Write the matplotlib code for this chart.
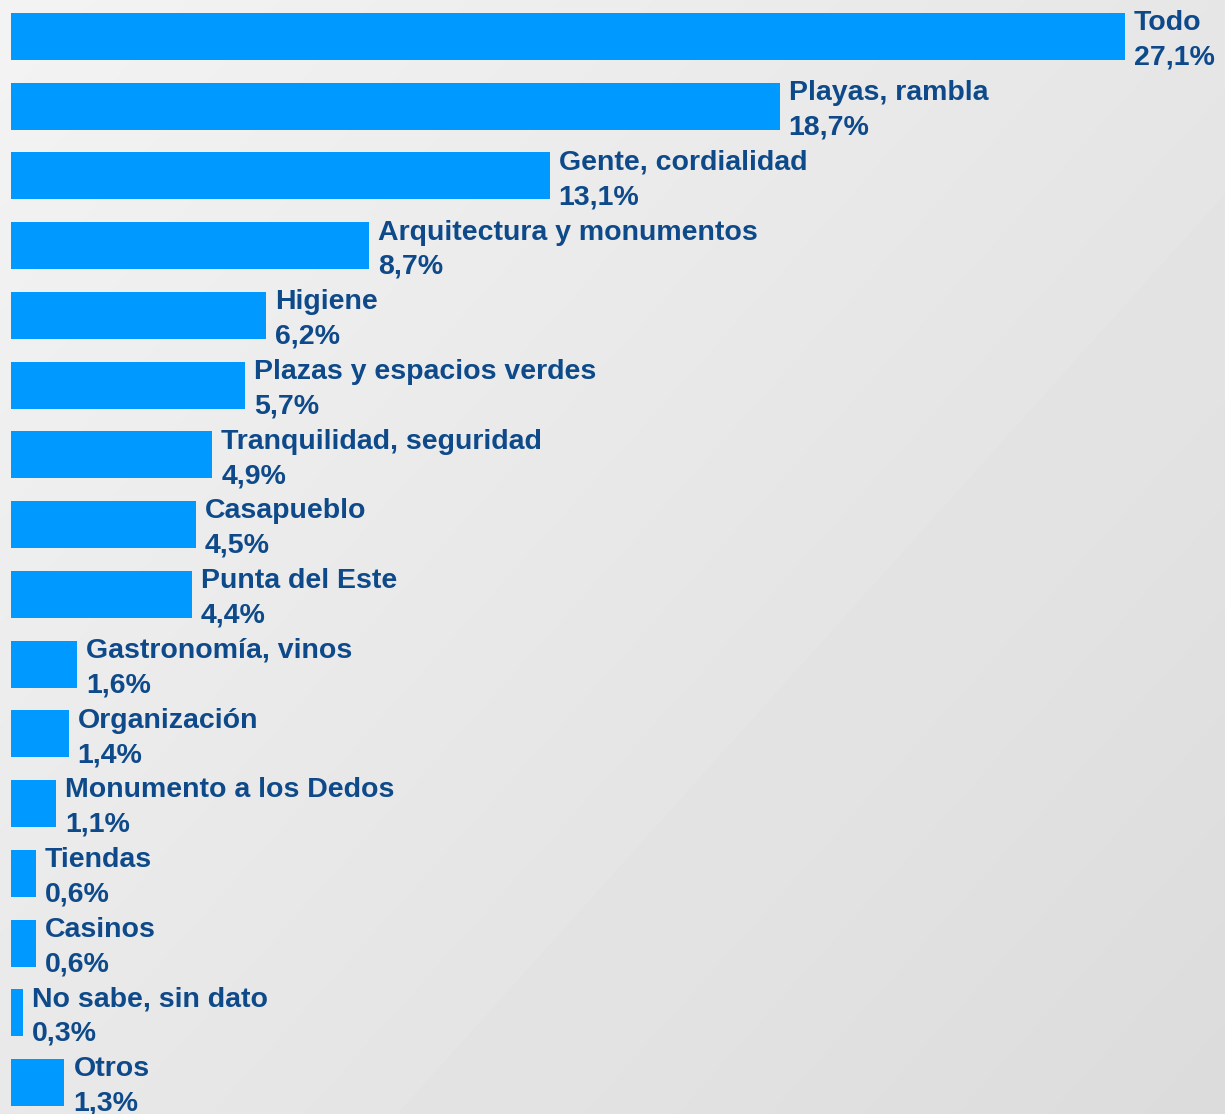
import numpy as np
import matplotlib
matplotlib.use("Agg")
import matplotlib.pyplot as plt

categories = ["Todo", "Playas, rambla", "Gente, cordialidad", "Arquitectura y monumentos",
              "Higiene", "Plazas y espacios verdes", "Tranquilidad, seguridad", "Casapueblo",
              "Punta del Este", "Gastronomía, vinos", "Organización", "Monumento a los Dedos",
              "Tiendas", "Casinos", "No sabe, sin dato", "Otros"]
values = [27.1, 18.7, 13.1, 8.7, 6.2, 5.7, 4.9, 4.5, 4.4, 1.6, 1.4, 1.1, 0.6, 0.6, 0.3, 1.3]
value_labels = ["27,1%", "18,7%", "13,1%", "8,7%", "6,2%", "5,7%", "4,9%", "4,5%", "4,4%",
                "1,6%", "1,4%", "1,1%", "0,6%", "0,6%", "0,3%", "1,3%"]

W, H = 1225, 1114
fig = plt.figure(figsize=(W / 100, H / 100), dpi=100)

# background gradient
bg = fig.add_axes([0, 0, 1, 1], zorder=0)
xx, yy = np.meshgrid(np.linspace(0, 1, 300), np.linspace(0, 1, 300))
t = (xx * 0.55 + yy * 0.45)
grad = 0.953 - t * (0.953 - 0.860)
bg.imshow(grad, cmap="gray", vmin=0, vmax=1, aspect="auto", extent=[0, 1, 1, 0],
          interpolation="bilinear")
bg.set_axis_off()

left_px = 11
px_per_unit = (1125 - left_px) / 27.1
pitch = (1082.5 - 36.5) / 15
ax = fig.add_axes([left_px / W, 0, 1 - left_px / W, 1], zorder=1)
ax.patch.set_alpha(0)
ax.set_xlim(0, (W - left_px) / px_per_unit)
ax.set_ylim((H - 36.5) / pitch, -36.5 / pitch)
ax.set_axis_off()

pos = np.arange(len(categories))
ax.barh(pos, values, height=47 / pitch, color="#0099FF", edgecolor="none")

txt_color = "#0E4A8A"
for p, v, name, lab in zip(pos, values, categories, value_labels):
    ax.annotate(name + "\n" + lab, xy=(v, p), xytext=(9, -4), textcoords="offset pixels",
                va="center", ha="left", fontsize=20.5, fontweight="bold",
                family="Liberation Sans", color=txt_color, linespacing=1.42,
                annotation_clip=False)

fig.savefig("out.png", dpi=100)
